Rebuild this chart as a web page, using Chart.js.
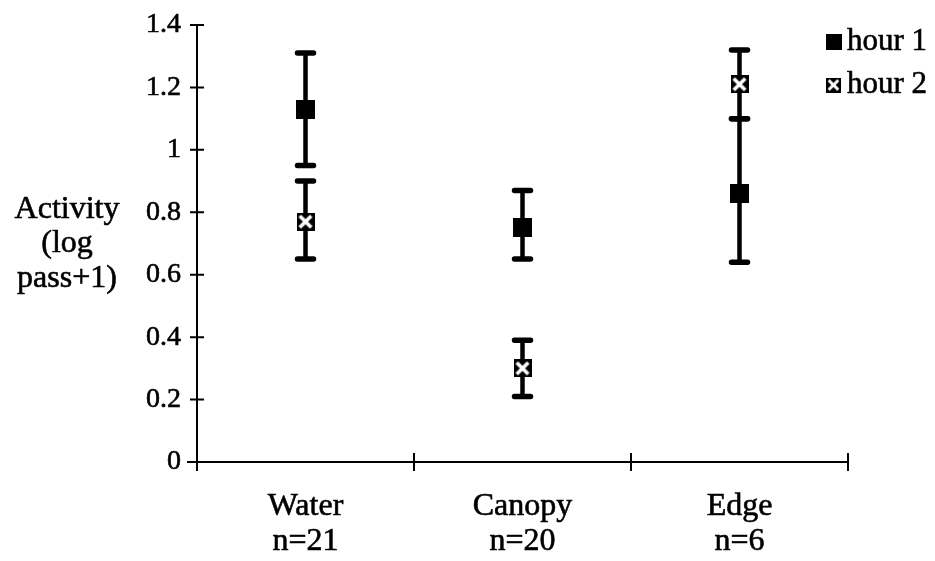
<!DOCTYPE html>
<html>
<head>
<meta charset="utf-8">
<script src="https://cdn.jsdelivr.net/npm/chart.js@4.4.1/dist/chart.umd.min.js"></script>
<style>
  html, body { margin: 0; padding: 0; background: #fff; }
  #wrap { width: 935px; height: 561px; position: relative; }
</style>
</head>
<body>
<div id="wrap"><canvas id="c"></canvas></div>
<script>
// Sites (with sample sizes) and mean activity per hour, with error-bar limits
const sites = [['Water', 'n=21'], ['Canopy', 'n=20'], ['Edge', 'n=6']];
const hour1Mean = [1.13, 0.75, 0.86];
const hour1Low  = [0.95, 0.65, 0.64];
const hour1High = [1.31, 0.87, 1.10];
const hour2Mean = [0.77, 0.30, 1.21];
const hour2Low  = [0.65, 0.21, 1.10];
const hour2High = [0.90, 0.39, 1.32];
const seriesNames = ['hour 1', 'hour 2'];
const yTickValues = [0, 0.2, 0.4, 0.6, 0.8, 1, 1.2, 1.4];
const yTitleLines = ['Activity', '(log', 'pass+1)'];

const FONT = "'Liberation Serif', 'Times New Roman', serif";

// Marker images
function squareMarker(size) {
  const c = document.createElement('canvas');
  c.width = size; c.height = size;
  const g = c.getContext('2d');
  g.fillStyle = '#000';
  g.fillRect(0, 0, size, size);
  return c;
}
function crossMarker(size) {
  const c = document.createElement('canvas');
  c.width = size; c.height = size;
  const g = c.getContext('2d');
  g.fillStyle = '#000';
  g.fillRect(0, 0, size, size);
  g.strokeStyle = '#fff';
  g.lineWidth = Math.max(2.5, size / 5);
  const m = size * 0.18;
  g.beginPath();
  g.moveTo(m, m); g.lineTo(size - m, size - m);
  g.moveTo(size - m, m); g.lineTo(m, size - m);
  g.stroke();
  return c;
}
const markers = [squareMarker(19), crossMarker(18)];
const legendMarkers = [squareMarker(16), crossMarker(15)];

const lows = [hour1Low, hour2Low];
const highs = [hour1High, hour2High];

// Vertical error bars with rounded caps, drawn beneath the markers
const errorBars = {
  id: 'errorBars',
  beforeDatasetsDraw(chart) {
    const { ctx, scales: { x, y } } = chart;
    ctx.save();
    ctx.strokeStyle = '#000';
    chart.data.datasets.forEach((ds, di) => {
      ds.data.forEach((v, i) => {
        const px = x.getPixelForValue(i);
        const yl = y.getPixelForValue(lows[di][i]);
        const yh = y.getPixelForValue(highs[di][i]);
        ctx.lineCap = 'butt';
        ctx.lineWidth = 4.5;
        ctx.beginPath();
        ctx.moveTo(px, yl); ctx.lineTo(px, yh);
        ctx.stroke();
        ctx.lineCap = 'round';
        ctx.lineWidth = 5.5;
        ctx.beginPath();
        ctx.moveTo(px - 8, yl); ctx.lineTo(px + 8, yl);
        ctx.moveTo(px - 8, yh); ctx.lineTo(px + 8, yh);
        ctx.stroke();
      });
    });
    ctx.restore();
  }
};

// Axis lines with ticks crossing them, the y title and the legend
const frame = {
  id: 'frame',
  afterDraw(chart) {
    const { ctx, chartArea: a, scales: { x, y } } = chart;
    ctx.save();
    ctx.strokeStyle = '#000';
    ctx.lineWidth = 2;
    ctx.lineCap = 'butt';
    ctx.beginPath();
    ctx.moveTo(a.left, a.top); ctx.lineTo(a.left, a.bottom + 1);
    ctx.moveTo(a.left - 10, a.bottom); ctx.lineTo(a.right + 1, a.bottom);
    ctx.stroke();
    ctx.lineWidth = 2;
    ctx.beginPath();
    yTickValues.forEach(v => {
      const py = y.getPixelForValue(v);
      ctx.moveTo(a.left - 7, py); ctx.lineTo(a.left + 7, py);
    });
    const n = sites.length;
    for (let i = 0; i <= n; i++) {
      const px = i === 0 ? a.left : i === n ? a.right
        : (x.getPixelForValue(i - 1) + x.getPixelForValue(i)) / 2;
      ctx.moveTo(px, a.bottom - 9); ctx.lineTo(px, a.bottom + 9);
    }
    ctx.stroke();

    ctx.fillStyle = '#000';
    ctx.strokeStyle = '#000';
    ctx.lineWidth = 0.6;
    ctx.font = '32px ' + FONT;
    ctx.textAlign = 'center';
    ctx.textBaseline = 'middle';
    const y0 = y.getPixelForValue(0.8) - 3;
    yTitleLines.forEach((t, i) => {
      ctx.fillText(t, 67, y0 + i * 34.5);
      ctx.strokeText(t, 67, y0 + i * 34.5);
    });

    ctx.font = '31px ' + FONT;
    ctx.textAlign = 'left';
    const rows = [42, 85];
    chart.data.datasets.forEach((ds, i) => {
      const m = legendMarkers[i];
      ctx.drawImage(m, 826, rows[i] - m.height / 2);
      ctx.fillText(ds.label, 847, rows[i]);
      ctx.strokeText(ds.label, 847, rows[i]);
    });
    ctx.restore();
  }
};

new Chart(document.getElementById('c'), {
  type: 'line',
  data: {
    labels: sites,
    datasets: [
      { label: seriesNames[0], data: hour1Mean, showLine: false,
        pointStyle: markers[0], pointRadius: 10, pointHoverRadius: 10 },
      { label: seriesNames[1], data: hour2Mean, showLine: false,
        pointStyle: markers[1], pointRadius: 10, pointHoverRadius: 10 }
    ]
  },
  options: {
    responsive: true,
    maintainAspectRatio: false,
    animation: false,
    events: [],
    layout: { padding: { top: 25, right: 87, bottom: 0, left: 0 } },
    plugins: { legend: { display: false }, tooltip: { enabled: false } },
    scales: {
      x: {
        offset: true,
        grid: { display: false, offset: true },
        border: { display: false },
        ticks: {
          color: '#000', padding: 19,
          textStrokeColor: '#000', textStrokeWidth: 0.6,
          font: { family: FONT, size: 32, lineHeight: 1.1 }
        },
        afterFit(s) { s.height = 99; }
      },
      y: {
        min: 0, max: 1.4,
        grid: { display: false },
        border: { display: false },
        afterBuildTicks(s) { s.ticks = yTickValues.map(v => ({ value: v })); },
        ticks: {
          color: '#000', padding: 8,
          textStrokeColor: '#000', textStrokeWidth: 0.6,
          font: { family: FONT, size: 28 },
          callback: v => String(Number(v.toFixed(1)))
        },
        afterFit(s) { s.width = 197; }
      }
    }
  },
  plugins: [errorBars, frame]
});
</script>
</body>
</html>
